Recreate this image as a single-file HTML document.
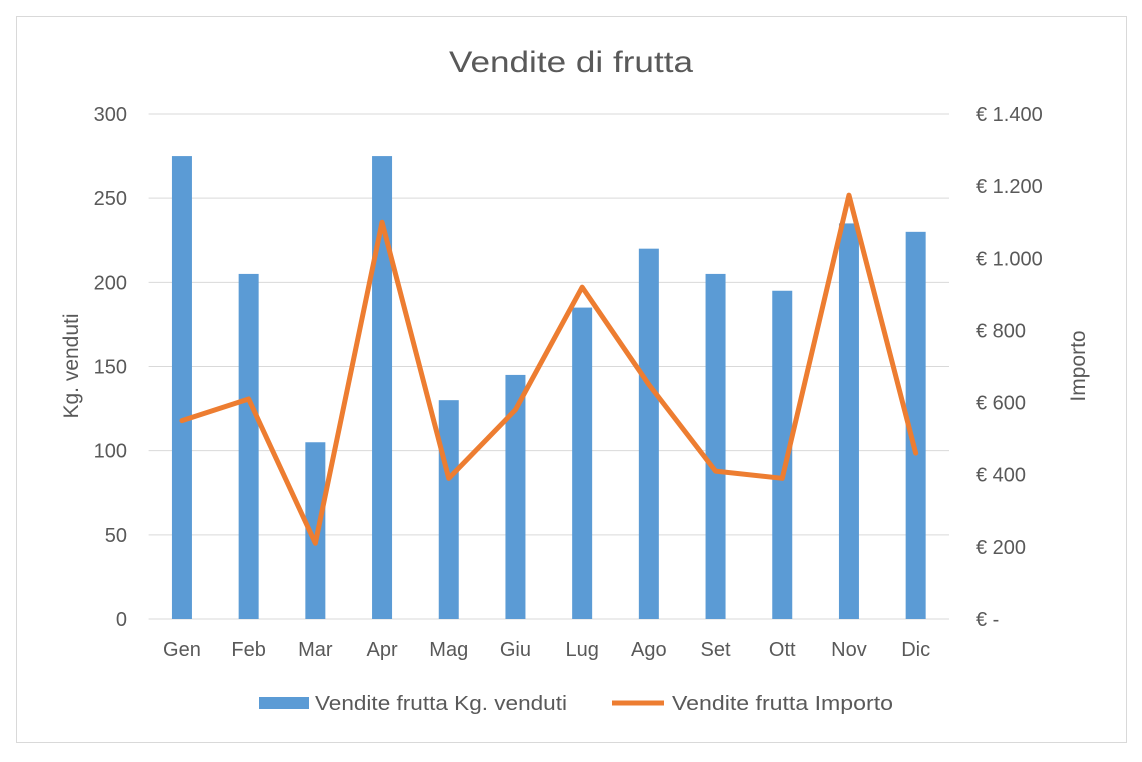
<!DOCTYPE html>
<html><head><meta charset="utf-8"><style>
body{margin:0;background:#fff;}
svg text{font-family:"Liberation Sans",sans-serif;fill:#595959;}
</style></head><body>
<svg width="1142" height="757" xmlns="http://www.w3.org/2000/svg">
<rect x="16.5" y="16.5" width="1110" height="726" fill="#fff" stroke="#d9d9d9"/>
<text x="449" y="72" font-size="30" textLength="244" lengthAdjust="spacingAndGlyphs">Vendite di frutta</text>
<g id="grid"></g><g id="bars"></g><g id="line"></g><g id="labels"></g>
<text transform="translate(78,366) rotate(-90)" font-size="21" text-anchor="middle">Kg. venduti</text>
<text transform="translate(1085,366) rotate(-90)" font-size="21" text-anchor="middle">Importo</text>
<g>
<rect x="259" y="697" width="50" height="12" fill="#5b9bd5"/>
<text x="315" y="710" font-size="20" textLength="252" lengthAdjust="spacingAndGlyphs">Vendite frutta Kg. venduti</text>
<line x1="612" y1="703" x2="664" y2="703" stroke="#ed7d31" stroke-width="5"/>
<text x="672" y="710" font-size="20" textLength="221" lengthAdjust="spacingAndGlyphs">Vendite frutta Importo</text>
</g>
</svg>
<script>
const categories=["Gen","Feb","Mar","Apr","Mag","Giu","Lug","Ago","Set","Ott","Nov","Dic"];
const kgValues=[275,205,105,275,130,145,185,220,205,195,235,230];
const importoValues=[550,610,210,1100,390,580,920,650,410,390,1175,460];
const leftTicks=[0,50,100,150,200,250,300];
const rightTicks=[0,200,400,600,800,1000,1200,1400];
const rightTickLabels=["€ -","€ 200","€ 400","€ 600","€ 800","€ 1.000","€ 1.200","€ 1.400"];
const NS="http://www.w3.org/2000/svg";
const x0=148.6,x1=949,yTop=114,yBot=619;
const step=(x1-x0)/categories.length;
const xC=i=>x0+step*(i+0.5);
const yL=v=>yBot-(v/300)*(yBot-yTop);
const yR=v=>yBot-(v/1400)*(yBot-yTop);
function mk(tag,attrs,parent){const e=document.createElementNS(NS,tag);for(const k in attrs)e.setAttribute(k,attrs[k]);document.getElementById(parent).appendChild(e);return e;}
leftTicks.forEach((t,i)=>{
 const g=mk("line",{x1:x0,x2:x1,y1:yL(t),y2:yL(t),stroke:"#d9d9d9","stroke-width":1},"grid");
 
 
 const l=mk("text",{x:127,y:yL(t)+7,"font-size":20,"text-anchor":"end"},"labels");l.textContent=t;
 
 
});
rightTicks.forEach((t,i)=>{
 const l=mk("text",{x:976,y:yR(t)+7,"font-size":20},"labels");l.textContent=rightTickLabels[i];
 
 
});
categories.forEach((c,i)=>{
 const b=mk("rect",{x:xC(i)-10,y:yL(kgValues[i]),width:20,height:yBot-yL(kgValues[i]),fill:"#5b9bd5"},"bars");
 
 
 const l=mk("text",{x:xC(i),y:656,"font-size":20,"text-anchor":"middle"},"labels");l.textContent=c;
 
 
});
const pts=importoValues.map((v,i)=>xC(i)+","+yR(v)).join(" ");
const pl=mk("polyline",{points:pts,fill:"none",stroke:"#ed7d31","stroke-width":5,"stroke-linejoin":"round","stroke-linecap":"round"},"line");


</script>
</body></html>
